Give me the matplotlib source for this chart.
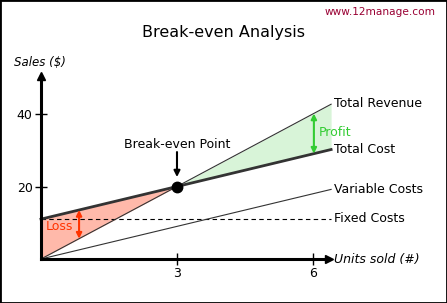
import numpy as np
import matplotlib
matplotlib.use("Agg")
import matplotlib.pyplot as plt
from matplotlib.patches import Rectangle

# data
units = np.array([0, 3, 6.4])
revenue = np.array([0, 20, 42.7])
total_cost = np.array([11, 20, 30.2])
variable_cost = np.array([0, 9, 19.2])
fixed_cost = np.array([11, 11, 11])
break_even = (3, 20)
x_ticks = [3, 6]
y_ticks = [20, 40]

W, H = 447, 303
fig = plt.figure(figsize=(W / 100, H / 100), dpi=100)
fig.patches.append(Rectangle((0, 0), 1, 1, transform=fig.transFigure,
                             fill=False, edgecolor="black", lw=2))

# axes placed so the origin sits at pixel (41, 259)
xmax, ymax = 6.35, 50.5
pxx, pxy = 45.33, 3.625
ax = fig.add_axes([41 / W, (H - 259) / H, xmax * pxx / W, ymax * pxy / H])
ax.set_xlim(0, xmax)
ax.set_ylim(0, ymax)
ax.patch.set_alpha(0)

for s in ["top", "right"]:
    ax.spines[s].set_visible(False)
for s in ["left", "bottom"]:
    ax.spines[s].set_linewidth(2.2)
ax.plot(1, 0, ">k", ms=6, transform=ax.get_yaxis_transform(), clip_on=False)
ax.plot(0, 1, "^k", ms=6, transform=ax.get_xaxis_transform(), clip_on=False)

ax.set_xticks(x_ticks)
ax.set_yticks(y_ticks)
ax.tick_params(direction="inout", length=8, width=1, labelsize=9, pad=2)

# regions
ax.fill_between(units, revenue, total_cost, where=units <= 3, color="#ffb9aa",
                lw=0, clip_on=False)
ax.fill_between(units, revenue, total_cost, where=units >= 3, color="#d8f4d8",
                lw=0, clip_on=False)

# lines
ax.plot(units, fixed_cost, color="black", lw=0.8, ls=(0, (4, 3)), clip_on=False)
ax.plot(units, variable_cost, color="#333333", lw=0.8, clip_on=False)
ax.plot(units, revenue, color="#333333", lw=0.8, clip_on=False)
ax.plot(units, total_cost, color="#333333", lw=2, clip_on=False)
ax.plot(*break_even, "o", color="black", ms=7.5, clip_on=False)

fs = 9
lx = 6.47
ax.text(lx, revenue[-1] + 0.1, "Total Revenue", fontsize=fs, va="center")
ax.text(lx, total_cost[-1] - 0.1, "Total Cost", fontsize=fs, va="center")
ax.text(lx, variable_cost[-1] + 0.1, "Variable Costs", fontsize=fs, va="center")
ax.text(lx, fixed_cost[-1] + 0.3, "Fixed Costs", fontsize=fs, va="center")
ax.text(lx, 0, "Units sold (#)", fontsize=fs, va="center", style="italic")

# break-even arrow
ax.annotate("", xy=(3, 22.6), xytext=(3, 29.5),
            arrowprops=dict(arrowstyle="-|>", color="black", lw=1.5,
                            mutation_scale=9, shrinkA=0, shrinkB=0))
ax.text(3, 31.7, "Break-even Point", fontsize=fs, ha="center", va="center")

# profit arrow
px = 6.02
ax.annotate("", xy=(px, 20 / 3 * px), xytext=(px, 11 + 3 * px),
            arrowprops=dict(arrowstyle="<|-|>", color="#33cc33", lw=1.5,
                            mutation_scale=8, shrinkA=0, shrinkB=0))
ax.text(6.13, 34.8, "Profit", fontsize=fs, color="#33cc33", va="center")

# loss arrow
lxa = 0.84
ax.annotate("", xy=(lxa, 20 / 3 * lxa), xytext=(lxa, 11 + 3 * lxa),
            arrowprops=dict(arrowstyle="<|-|>", color="#ff3300", lw=1.5,
                            mutation_scale=8, shrinkA=0, shrinkB=0))
ax.text(0.11, 9.1, "Loss", fontsize=fs, color="#ff3300", va="center")

# figure texts
fig.text(223 / W, 1 - 33 / H, "Break-even Analysis", fontsize=11.5,
         ha="center", va="center")
fig.text(436 / W, 1 - 12 / H, "www.12manage.com", fontsize=7.6,
         color="#990033", ha="right", va="center")
fig.text(14 / W, 1 - 63 / H, "Sales ($)", fontsize=8.5, style="italic",
         va="center")

fig.savefig("out.png", dpi=100)
